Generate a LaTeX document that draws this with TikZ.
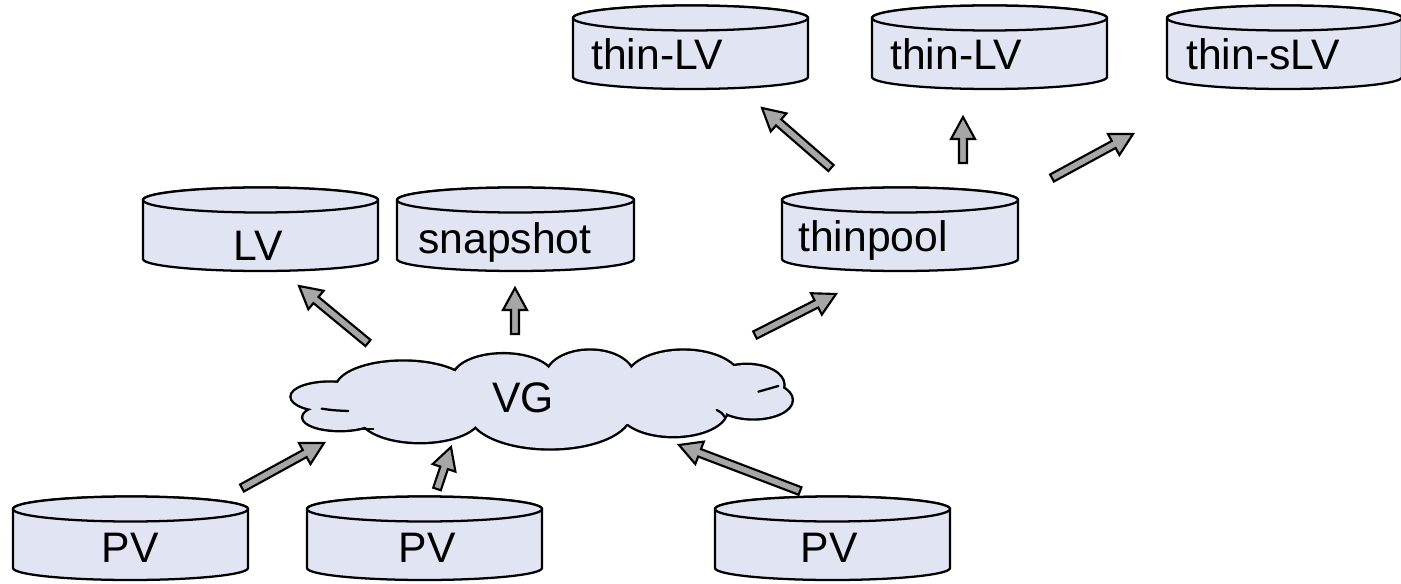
\documentclass[tikz,border=0pt]{standalone}
\usepackage{fontspec}
\setmainfont{Liberation Sans}
\usetikzlibrary{calc}
\definecolor{cylfill}{RGB}{225,228,242}
\definecolor{arrgray}{RGB}{166,166,166}
\tikzset{
  cylbody/.style={draw=black, fill=cylfill, line width=1.7pt, line join=round},
  lbl/.style={inner sep=0pt, font=\fontsize{32pt}{38pt}\selectfont},
  barr/.style={draw=black, fill=arrgray, line width=1.6pt, line join=miter},
  cloudline/.style={line width=1.7pt, line cap=round},
}
\newcommand\mycyl[3]{%
  \pgfmathsetmacro\ccx{(#1+#2)/2}\pgfmathsetmacro\crx{(#2-#1)/2}%
  \filldraw[cylbody] (#1,#3) -- (#1,#3+59) arc[start angle=180,end angle=0,x radius=\crx,y radius=12]
     -- (#2,#3) arc[start angle=0,end angle=-180,x radius=\crx,y radius=12.5] -- cycle;
  \draw[cylbody] (\ccx,#3) ellipse[x radius=\crx, y radius=12.5];
}
\newcommand\blockarrow[2]{%
  \coordinate (bh) at ($(#2)!16.5pt!(#1)$);
  \filldraw[barr] ($(#1)!3pt!90:(#2)$) -- ($(bh)!3pt!90:(#2)$) -- ($(bh)!9pt!90:(#2)$) -- (#2)
     -- ($(bh)!9pt!-90:(#2)$) -- ($(bh)!3pt!-90:(#2)$) -- ($(#1)!3pt!-90:(#2)$) -- cycle;
}
\begin{document}
\begin{tikzpicture}[x=0.75pt, y=-0.75pt]
\useasboundingbox (0,0) rectangle (1401,584);
% cylinders
\mycyl{13}{248}{509}
\mycyl{307}{542}{509}
\mycyl{715}{950}{509}
\mycyl{143}{378}{200}
\mycyl{397}{634}{200}
\mycyl{782}{1018}{200}
\mycyl{573}{808}{18}
\mycyl{872}{1107}{18}
\mycyl{1167}{1402}{18}
% cloud
\begin{scope}[shift={(280,330)}, scale=1/3]
  \foreach \ex/\ey/\erx/\ery in {150/200/115/42, 180/262/110/38, 370/175/200/80, 670/145/150/72,
      930/140/130/78, 1210/150/170/88, 1400/165/110/60, 1420/210/115/55, 1180/240/160/78,
      810/250/240/105, 420/258/180/78}
    {\draw[line width=3.6pt] (\ex,\ey) ellipse[x radius=\erx, y radius=\ery];}
  \foreach \ex/\ey/\erx/\ery in {150/200/115/42, 180/262/110/38, 370/175/200/80, 670/145/150/72,
      930/140/130/78, 1210/150/170/88, 1400/165/110/60, 1420/210/115/55, 1180/240/160/78,
      810/250/240/105, 420/258/180/78, 780/205/620/85}
    {\fill[cylfill] (\ex,\ey) ellipse[x radius=\erx, y radius=\ery];}
  % small inner strokes of the cloud outline
  \draw[cloudline] (125,236) .. controls (160,241) .. (205,243);
  \draw[cloudline] (238,297) .. controls (258,299) .. (280,297);
  \draw[cloudline] (1310,240) .. controls (1325,248) .. (1335,262);
  \draw[cloudline] (1435,185) .. controls (1460,178) .. (1495,168);
\end{scope}
% labels
\node[lbl, anchor=base] (pv1) at (130,562) {PV};
\node[lbl, anchor=base] (pv2) at (427,562) {PV};
\node[lbl, anchor=base] (pv3) at (829,562) {PV};
\node[lbl, anchor=base] (lv) at (258,261) {LV};
\node[lbl, anchor=base west] (snap) at (418,254) {snapshot};
\node[lbl, anchor=base west] (tp) at (798,252) {thinpool};
\node[lbl, anchor=base west] (tlv1) at (591,70) {thin-LV};
\node[lbl, anchor=base west] (tlv2) at (890,70) {thin-LV};
\node[lbl, anchor=base west] (tslv) at (1186,70) {thin-sLV};
\node[lbl, anchor=base] (vg) at (523,412) {VG};
% arrow end points
\coordinate (a1t) at (242,488); \coordinate (a1h) at (324,443);
\coordinate (a2t) at (437,489); \coordinate (a2h) at (451,447);
\coordinate (a3t) at (800,491); \coordinate (a3h) at (679,445);
\coordinate (a4t) at (368,343); \coordinate (a4h) at (299,286);
\coordinate (a5t) at (515,334); \coordinate (a5h) at (515,288);
\coordinate (a6t) at (755,335); \coordinate (a6h) at (836,294);
\coordinate (a7t) at (831,168); \coordinate (a7h) at (762,108);
\coordinate (a8t) at (963,163); \coordinate (a8h) at (963,117);
\coordinate (a9t) at (1052,178); \coordinate (a9h) at (1133,134);
\blockarrow{a1t}{a1h}
\blockarrow{a2t}{a2h}
\blockarrow{a3t}{a3h}
\blockarrow{a4t}{a4h}
\blockarrow{a5t}{a5h}
\blockarrow{a6t}{a6h}
\blockarrow{a7t}{a7h}
\blockarrow{a8t}{a8h}
\blockarrow{a9t}{a9h}
\end{tikzpicture}
\end{document}
